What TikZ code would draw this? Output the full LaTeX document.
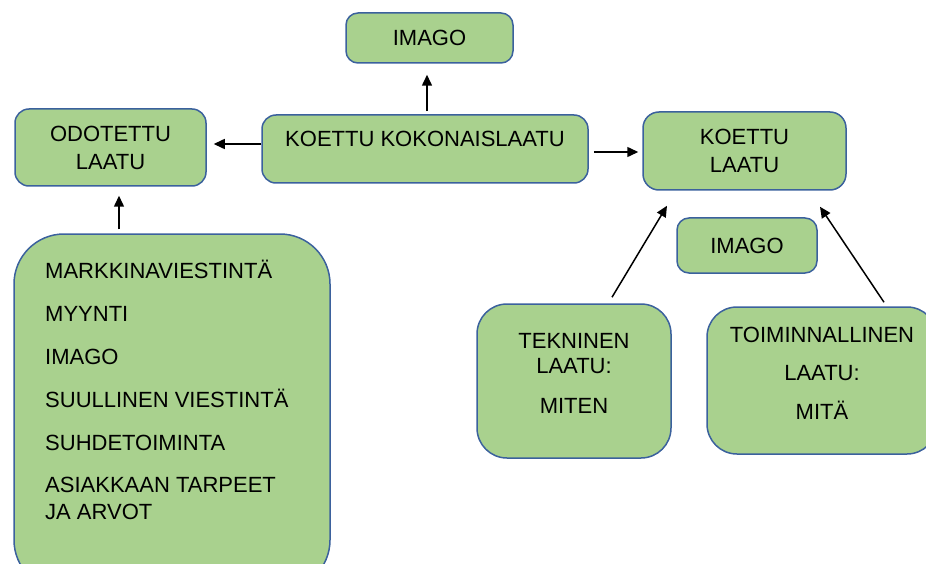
\documentclass[tikz,border=0pt]{standalone}
\usepackage{fontspec}
\setmainfont{Liberation Sans}
\usepackage{tikz}
\usetikzlibrary{positioning}
\usetikzlibrary{arrows.meta}

\definecolor{boxgreen}{HTML}{A9D18E}
\definecolor{boxblue}{HTML}{3B619D}

\begin{document}
\begin{tikzpicture}[x=1pt, y=-1pt,
		box/.style={draw=boxblue, fill=boxgreen, line width=1.5pt, rounded corners=#1, align=center, inner sep=0pt, font=\fontsize{22}{27}\selectfont},
		box/.default=12pt,
		arr/.style={-{Triangle[length=11pt,width=10pt]}, line width=1.5pt}]
		\useasboundingbox (0,0) rectangle (926,564);

		% Top row
		\node[box, minimum width=167pt, minimum height=50pt] (imagotop) at (429.5,38) {IMAGO};
		\node[box=14pt, minimum width=326pt, minimum height=68pt, text depth=20pt] (kokonais) at (425,149) {KOETTU KOKONAISLAATU};
		\node[box=14pt, minimum width=191pt, minimum height=77pt] (odotettu) at (110.5,147.5) {ODOTETTU\\[1pt]LAATU};
		\node[box=16pt, minimum width=203pt, minimum height=78pt] (koettu) at (744.5,151) {KOETTU\\[1pt]LAATU};
		\node[box, minimum width=140pt, minimum height=55pt] (imagoright) at (747,245.5) {IMAGO};

		% Lower boxes
		\node[box=30pt, minimum width=194pt, minimum height=154pt, text depth=15pt] (tekninen) at (574,381) {TEKNINEN\\[-2pt]LAATU:\\[13pt]MITEN};
		\node[box=30pt, minimum width=230pt, minimum height=147pt, text depth=14pt] (toiminnallinen) at (822,380.5) {TOIMINNALLINEN\\[11pt]LAATU:\\[12pt]MITÄ};

		% Expectation factors
		\node[box=50pt, minimum width=316pt, minimum height=356pt] (markkina) at (172,412) {};
		\node[anchor=north west, inner sep=0pt, align=left, font=\fontsize{22}{27}\selectfont] (lista) at (45,260)
			{MARKKINAVIESTINTÄ\\[16pt]MYYNTI\\[16pt]IMAGO\\[16pt]SUULLINEN VIESTINTÄ\\[16pt]SUHDETOIMINTA\\[15pt]ASIAKKAAN TARPEET\\JA ARVOT};

		% Arrows
		\draw[arr] ([xshift=2pt,yshift=3pt]kokonais.north) -- ([xshift=-2.5pt,yshift=-11pt]imagotop.south);
		\draw[arr] ([yshift=5pt]kokonais.west) -- ([xshift=7pt,yshift=3.5pt]odotettu.east);
		\draw[arr] ([xshift=5pt,yshift=-3pt]kokonais.east) -- ([xshift=-4pt,yshift=-1pt]koettu.west);
		\draw[arr] ([xshift=-53pt,yshift=4pt]markkina.north) -- ([xshift=8.5pt,yshift=-9pt]odotettu.south);
		\draw[arr] ([xshift=38pt,yshift=6pt]tekninen.north) -- ([xshift=-77.5pt,yshift=-15pt]koettu.south);
		\draw[arr] ([xshift=62pt,yshift=4pt]toiminnallinen.north) -- ([xshift=75.5pt,yshift=-16pt]koettu.south);
	\end{tikzpicture}
\end{document}
